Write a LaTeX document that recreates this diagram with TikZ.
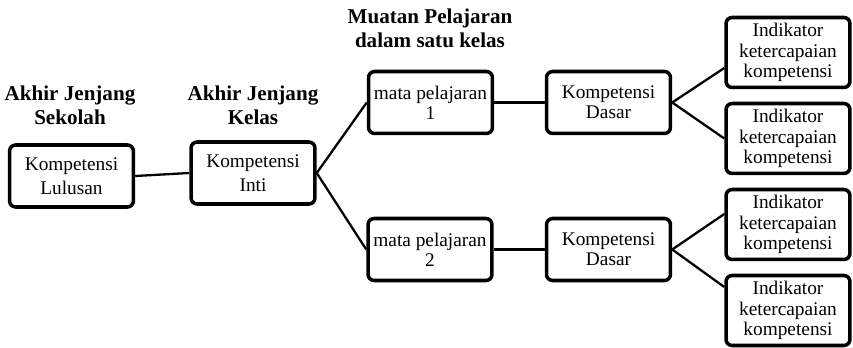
\documentclass[tikz,border=0pt]{standalone}
\usepackage{fontspec}
\setmainfont{Liberation Serif}
\usepackage{tikz}

\begin{document}
\begin{tikzpicture}[
    x=0.02cm, y=-0.02cm,
    box/.style = {
        draw,
        line width=2pt,
        rounded corners=3.5pt,
        align=center,
        inner sep=1pt,
        minimum width=2.48cm,
        minimum height=1.24cm,
        font=\fontsize{11}{11.5}\selectfont
    },
    indbox/.style = {
        box,
        minimum height=1.4cm
    },
    head/.style = {
        align=center,
        font=\fontsize{12}{13.6}\selectfont\bfseries
    },
    link/.style = {
        line width=1.3pt
    },
    thicklink/.style = {
        line width=1.8pt
    }
]
    \useasboundingbox (0,0) rectangle (853,348);

    % Draw the headings
    \node[head] (hsek) at (70,105) {Akhir Jenjang\\Sekolah};
    \node[head] (hkel) at (253,105) {Akhir Jenjang\\Kelas};
    \node[head] (hmua) at (430,28) {Muatan Pelajaran\\dalam satu kelas};

    % Draw all boxes
    \node[box] (kl) at (71.5,176) {Kompetensi\\[2.5pt]Lulusan};
    \node[box] (ki) at (253,173) {Kompetensi\\[2pt]Inti};
    \node[box] (mp1) at (430.5,102.5) {mata pelajaran\\1};
    \node[box] (mp2) at (430,249.5) {mata pelajaran\\2};
    \node[box] (kd1) at (608.5,102.5) {Kompetensi\\Dasar};
    \node[box] (kd2) at (608.5,249.5) {Kompetensi\\Dasar};
    \node[indbox] (ik1) at (788,52.5) {Indikator\\ketercapaian\\kompetensi};
    \node[indbox] (ik2) at (788,138.5) {Indikator\\ketercapaian\\kompetensi};
    \node[indbox] (ik3) at (788,224.5) {Indikator\\ketercapaian\\kompetensi};
    \node[indbox] (ik4) at (788,310.5) {Indikator\\ketercapaian\\kompetensi};

    % Draw the connections
    \draw[link] (kl.east) -- (ki.west);
    \draw[link] (ki.east) -- (mp1.west);
    \draw[link] (ki.east) -- (mp2.west);
    \draw[thicklink] (mp1.east) -- (kd1.west);
    \draw[thicklink] (mp2.east) -- (kd2.west);
    \draw[link] (kd1.east) -- ([yshift=-0.31cm]ik1.west);
    \draw[link] (kd1.east) -- (ik2.west);
    \draw[link] (kd2.east) -- ([yshift=0.21cm]ik3.west);
    \draw[link] (kd2.east) -- ([yshift=0.47cm]ik4.west);
\end{tikzpicture}
\end{document}
